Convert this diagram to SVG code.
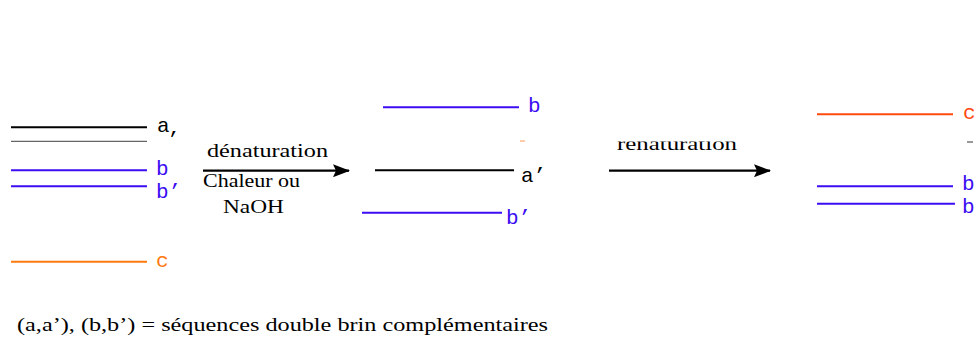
<svg xmlns="http://www.w3.org/2000/svg" width="976" height="350" viewBox="0 0 976 350">
  <style>
    .strand { stroke-width: 2; fill: none; }
    .k { stroke: #000000; }
    .g { stroke: #666666; stroke-width: 1.2; }
    .bl { stroke: #3c0cf2; }
    .or { stroke: #ff7a10; }
    .rd { stroke: #ff4a10; }
    .lbl { font-family: "Liberation Mono", "DejaVu Sans Mono", monospace; font-size: 21px; }
    .lk { fill: #000000; }
    .lb { fill: #3c0cf2; }
    .lo { fill: #ff7a10; }
    .lr { fill: #ff4a10; }
    .serif { font-family: "Liberation Serif", "DejaVu Serif", serif; font-size: 19px; fill: #000000; }
    .conn { stroke: #000000; stroke-width: 2.2; fill: none; }
  </style>
  <defs>
    <marker id="head" viewBox="0 0 17 13" refX="16" refY="6.5" markerWidth="17" markerHeight="13" markerUnits="userSpaceOnUse" orient="auto">
      <path d="M0,0 L17,6.5 L0,13 L3,6.5 Z" fill="#000000"/>
    </marker>
    <clipPath id="clipRen">
      <rect x="600" y="141.5" width="160" height="20"/>
    </clipPath>
  </defs>
  <rect width="976" height="350" fill="#ffffff"/>

  <!-- starting double strands -->
  <g id="start-a">
    <line class="strand k" x1="11" y1="127.3" x2="147" y2="127.3"/>
    <text class="lbl lk" x="157" y="132">a</text>
  </g>
  <g id="start-a-prime">
    <line class="strand g" x1="11" y1="141.3" x2="147" y2="141.3"/>
    <text class="lbl lk" x="167" y="146" font-size="15">’</text>
  </g>
  <g id="start-b">
    <line class="strand bl" x1="11" y1="170.3" x2="147" y2="170.3"/>
    <text class="lbl lb" x="156" y="175">b</text>
  </g>
  <g id="start-b-prime">
    <line class="strand bl" x1="11" y1="186.3" x2="147" y2="186.3"/>
    <text class="lbl lb" x="156" y="198">b’</text>
  </g>
  <g id="start-c">
    <line class="strand or" x1="11" y1="261.7" x2="147" y2="261.7"/>
    <text class="lbl lo" x="156" y="267">c</text>
  </g>

  <!-- separated single strands -->
  <g id="mid-b">
    <line class="strand bl" x1="383" y1="107.3" x2="519" y2="107.3"/>
    <text class="lbl lb" x="528" y="112">b</text>
  </g>
  <g id="mid-dash">
    <line stroke="#ff9a50" stroke-width="1" x1="520" y1="141" x2="525" y2="141"/>
  </g>
  <g id="mid-a-prime">
    <line class="strand k" x1="375" y1="170.3" x2="514" y2="170.3"/>
    <text class="lbl lk" x="521" y="182">a’</text>
  </g>
  <g id="mid-b-prime">
    <line class="strand bl" x1="362" y1="212.7" x2="502" y2="212.7"/>
    <text class="lbl lb" x="506" y="224">b’</text>
  </g>

  <!-- renatured strands -->
  <g id="end-c">
    <line class="strand rd" x1="817" y1="114.3" x2="953" y2="114.3"/>
    <text class="lbl lr" x="963" y="119">c</text>
  </g>
  <g id="end-dash">
    <line stroke="#333333" stroke-width="1" x1="967" y1="142" x2="973" y2="142"/>
  </g>
  <g id="end-b">
    <line class="strand bl" x1="817" y1="186.3" x2="953" y2="186.3"/>
    <text class="lbl lb" x="962" y="190">b</text>
  </g>
  <g id="end-b-prime">
    <line class="strand bl" x1="817" y1="203.7" x2="955" y2="203.7"/>
    <text class="lbl lb" x="962" y="213">b</text>
  </g>

  <!-- reaction arrows -->
  <g id="connectors">
    <line class="conn" x1="203" y1="170.7" x2="349" y2="170.7" marker-end="url(#head)"/>
    <line class="conn" x1="609" y1="170.7" x2="770" y2="170.7" marker-end="url(#head)"/>
    <text class="serif" x="207" y="157" textLength="121" lengthAdjust="spacingAndGlyphs">dénaturation</text>
    <text class="serif" x="203" y="187" textLength="97" lengthAdjust="spacingAndGlyphs">Chaleur ou</text>
    <text class="serif" x="223" y="213" textLength="61" lengthAdjust="spacingAndGlyphs">NaOH</text>
    <text class="serif" x="617" y="150" textLength="120" lengthAdjust="spacingAndGlyphs" clip-path="url(#clipRen)">renaturation</text>
  </g>

  <!-- legend -->
  <g id="legend">
    <text class="serif" x="17" y="331" textLength="531" lengthAdjust="spacingAndGlyphs">(a,a’), (b,b’) = séquences double brin complémentaires</text>
  </g>
</svg>
